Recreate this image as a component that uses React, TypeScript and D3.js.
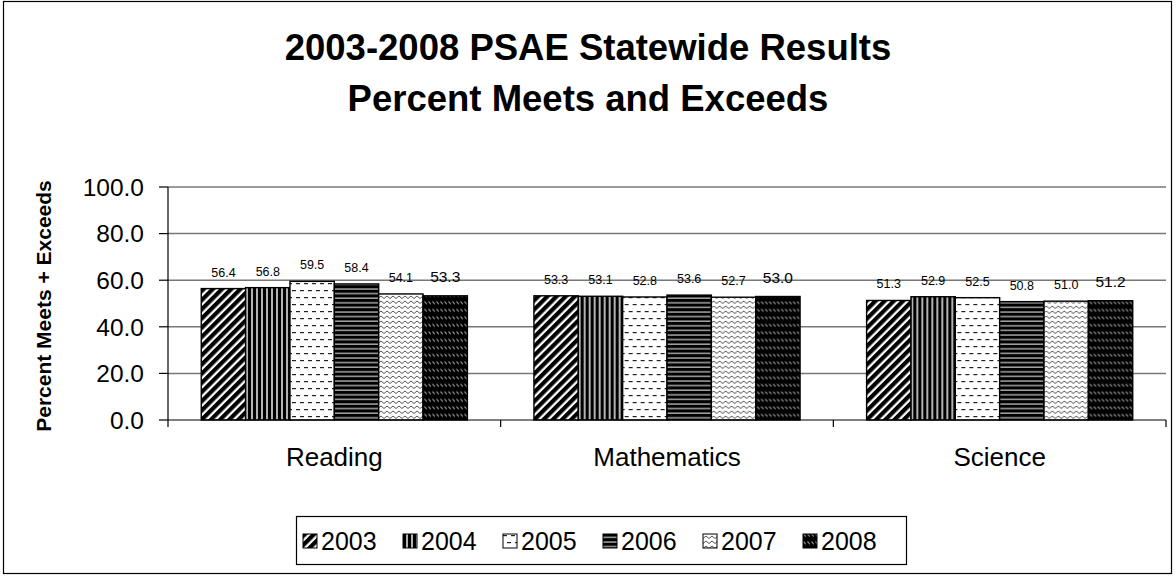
import React from "react";
import * as d3 from "d3";

const categories = ["Reading", "Mathematics", "Science"];
const years = ["2003", "2004", "2005", "2006", "2007", "2008"];
const reading = [56.4, 56.8, 59.5, 58.4, 54.1, 53.3];
const mathematics = [53.3, 53.1, 52.8, 53.6, 52.7, 53.0];
const science = [51.3, 52.9, 52.5, 50.8, 51.0, 51.2];
const yTicks = [0, 20, 40, 60, 80, 100];

const seriesByCategory = [reading, mathematics, science];

const W = 1176;
const H = 576;
const plot = { left: 168, right: 1166, top: 187, bottom: 420 };

function Patterns() {
  return (
    <defs>
      <pattern id="p2003" patternUnits="userSpaceOnUse" width="6.5" height="6.5" patternTransform="rotate(45)">
        <rect width="6.5" height="6.5" fill="#fff" />
        <rect width="4.2" height="6.5" fill="#000" />
      </pattern>
      <pattern id="p2004" patternUnits="userSpaceOnUse" width="5" height="5">
        <rect width="5" height="5" fill="#000" />
        <rect x="3.3" width="1.4" height="5" fill="#fff" />
      </pattern>
      <pattern id="p2005" patternUnits="userSpaceOnUse" width="8" height="14">
        <rect width="8" height="14" fill="#fff" />
        <rect x="0" y="3" width="4" height="1.2" fill="#222" />
        <rect x="4" y="10" width="4" height="1.2" fill="#222" />
      </pattern>
      <pattern id="p2006" patternUnits="userSpaceOnUse" width="5" height="4.6">
        <rect width="5" height="4.6" fill="#000" />
        <rect y="3.2" width="5" height="1.2" fill="#ccc" />
      </pattern>
      <pattern id="p2007" patternUnits="userSpaceOnUse" width="6" height="5">
        <rect width="6" height="5" fill="#fff" />
        <path d="M0,3.5 L3,1 L6,3.5" fill="none" stroke="#555" strokeWidth="1" />
      </pattern>
      <pattern id="p2008" patternUnits="userSpaceOnUse" width="4" height="7.5">
        <rect width="4" height="7.5" fill="#000" />
        <path d="M0.5,1.5 L2.8,4" fill="none" stroke="#aaa" strokeWidth="1" />
      </pattern>
    </defs>
  );
}

export default function App() {
  const y = d3.scaleLinear().domain([0, 100]).range([plot.bottom, plot.top]);
  const x0 = d3.scaleBand<string>().domain(categories).range([plot.left, plot.right]).paddingInner(0).paddingOuter(0);
  const x1 = d3
    .scaleBand<string>()
    .domain(years)
    .range([0, x0.bandwidth()])
    .paddingInner(0)
    .paddingOuter(0.75);

  const catBoundaries = [...categories.map((c) => x0(c)!), plot.right];

  const legendX = d3.scaleBand<string>().domain(years).range([303, 903]);

  return (
    <svg
      width={W}
      height={H}
      style={{ position: "absolute", left: 0, top: 0, background: "#fff" }}
      fontFamily="'Liberation Sans', Arial, sans-serif"
    >
      <Patterns />
      <rect x={0} y={0} width={W} height={H} fill="#fff" />
      <rect x={3.5} y={1.5} width={1168} height={572} fill="none" stroke="#000" strokeWidth={1.2} />

      <text x={588} y={60} textAnchor="middle" fontWeight="bold" fontSize={36.5}>
        2003-2008 PSAE Statewide Results
      </text>
      <text x={588} y={111} textAnchor="middle" fontWeight="bold" fontSize={36.5}>
        Percent Meets and Exceeds
      </text>

      {yTicks.filter((t) => t > 0).map((t) => (
        <line key={t} x1={plot.left} x2={plot.right} y1={y(t)} y2={y(t)} stroke="#777" strokeWidth={1.5} />
      ))}

      <line x1={plot.left} x2={plot.left} y1={plot.top} y2={plot.bottom} stroke="#000" strokeWidth={1.2} />
      {yTicks.map((t) => (
        <g key={t}>
          <line x1={plot.left - 9} x2={plot.left} y1={y(t)} y2={y(t)} stroke="#000" strokeWidth={1.2} />
          <text x={144} y={y(t)} dy="0.36em" textAnchor="end" fontSize={24.5}>
            {d3.format(".1f")(t)}
          </text>
        </g>
      ))}
      <text
        transform={`translate(43,306) rotate(-90)`}
        textAnchor="middle"
        dy="0.36em"
        fontWeight="bold"
        fontSize={21}
      >
        Percent Meets + Exceeds
      </text>

      {categories.map((c, ci) => (
        <g key={c} transform={`translate(${x0(c)},0)`}>
          {years.map((yr, si) => {
            const v = seriesByCategory[ci][si];
            return (
              <rect
                key={yr}
                x={x1(yr)}
                y={y(v)}
                width={x1.bandwidth()}
                height={y(0) - y(v)}
                fill={`url(#p${yr})`}
                stroke="#000"
                strokeWidth={1.4}
              />
            );
          })}
          {years.map((yr, si) => {
            const v = seriesByCategory[ci][si];
            const big = si === years.length - 1;
            return (
              <text
                key={"l" + yr}
                x={x1(yr)! + x1.bandwidth() / 2}
                y={y(v) - (big ? 14 : 12)}
                textAnchor="middle"
                fontSize={big ? 15.5 : 12.5}
              >
                {d3.format(".1f")(v)}
              </text>
            );
          })}
        </g>
      ))}

      <line x1={plot.left} x2={plot.right} y1={plot.bottom} y2={plot.bottom} stroke="#000" strokeWidth={1.2} />
      {catBoundaries.map((bx, i) => (
        <line key={i} x1={bx} x2={bx} y1={plot.bottom} y2={plot.bottom + 7} stroke="#000" strokeWidth={1.2} />
      ))}
      {categories.map((c) => (
        <text key={c} x={x0(c)! + x0.bandwidth() / 2} y={466} textAnchor="middle" fontSize={26}>
          {c}
        </text>
      ))}

      <rect x={296.5} y={516.5} width={610} height={48} fill="#fff" stroke="#000" strokeWidth={1.2} />
      {years.map((yr) => (
        <g key={yr} transform={`translate(${legendX(yr)},0)`}>
          <rect x={0} y={534} width={14} height={14} fill={`url(#p${yr})`} stroke="#000" strokeWidth={1} />
          <text x={18} y={550} fontSize={25}>
            {yr}
          </text>
        </g>
      ))}
    </svg>
  );
}
